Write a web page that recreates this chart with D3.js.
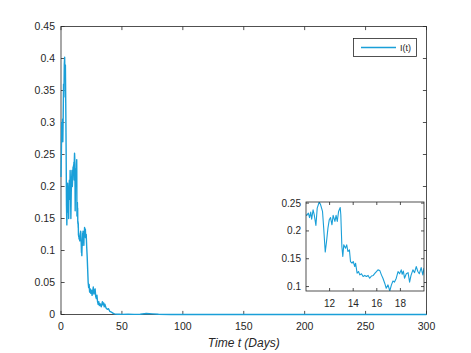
<!DOCTYPE html>
<html>
<head>
<meta charset="utf-8">
<script src="https://cdn.jsdelivr.net/npm/d3@7"></script>
<style>
  body { margin: 0; background: #fff; }
  text { font-family: "Liberation Sans", Arial, sans-serif; fill: #262626; }
</style>
</head>
<body>
<svg id="main-svg"></svg>
<script>
// time (days) and infected fraction I(t)
let times = [
  0, 0.3, 0.6, 0.9, 1.2, 1.5, 1.8, 2.1, 2.4, 2.7, 3.0, 3.3, 3.6, 3.9, 4.2, 4.5, 4.8,
  5.1, 5.4, 5.7, 6.0, 6.3, 6.6, 6.9, 7.2, 7.5, 7.8, 8.1, 8.4, 8.7, 9.0, 9.3, 9.6, 9.9,
  10.06, 10.2, 10.3, 10.4, 10.48, 10.6, 10.7, 10.84, 10.95, 11.12, 11.24, 11.4, 11.5,
  11.63, 11.74, 11.86, 11.97, 12.08, 12.2, 12.3, 12.45, 12.55, 12.65, 12.76, 12.9,
  12.95, 13.04, 13.12, 13.2, 13.35, 13.45, 13.55, 13.68, 13.77, 13.9, 14.0, 14.13,
  14.2, 14.33, 14.45, 14.56, 14.7, 14.84, 14.98, 15.12, 15.26, 15.4, 15.55, 15.7,
  15.85, 15.97, 16.1, 16.25, 16.39, 16.52, 16.67, 16.8, 16.95, 17.1, 17.24, 17.37,
  17.5, 17.65, 17.8, 17.93, 18.07, 18.15, 18.25, 18.35, 18.5, 18.65, 18.78, 18.9,
  19.06, 19.2, 19.34, 19.48, 19.6, 19.76, 19.9, 20.0,
  20.3, 20.7, 21.1, 21.5, 21.9, 22.3, 22.7, 23.1, 23.5, 24, 24.5, 25, 25.5, 26, 26.5,
  27, 27.5, 28, 28.5, 29, 29.5, 30, 30.5, 31, 31.5, 32, 33, 34, 34.5, 35, 35.5, 36,
  37, 38, 39, 40, 41, 42, 43, 44, 46, 48, 50, 55, 60, 65, 70, 75, 80, 90, 100, 150,
  200, 250, 300
];
let infected = [
  0.215, 0.25, 0.30, 0.285, 0.305, 0.27, 0.31, 0.36, 0.34, 0.39, 0.402, 0.37, 0.39,
  0.33, 0.26, 0.17, 0.14, 0.18, 0.205, 0.16, 0.19, 0.15, 0.2, 0.21, 0.18, 0.225, 0.2,
  0.15, 0.19, 0.21, 0.225, 0.2, 0.215, 0.23,
  0.228, 0.232, 0.224, 0.234, 0.221, 0.238, 0.229, 0.21, 0.241, 0.252, 0.247, 0.235,
  0.205, 0.162, 0.181, 0.205, 0.22, 0.224, 0.211, 0.228, 0.217, 0.228, 0.217, 0.235,
  0.242, 0.229, 0.172, 0.154, 0.175, 0.169, 0.175, 0.163, 0.166, 0.145, 0.142, 0.145,
  0.136, 0.142, 0.124, 0.127, 0.121, 0.123, 0.118, 0.12, 0.118, 0.12, 0.115, 0.119,
  0.12, 0.124, 0.127, 0.13, 0.129, 0.121, 0.115, 0.106, 0.097, 0.103, 0.092, 0.103,
  0.11, 0.108, 0.115, 0.127, 0.123, 0.13, 0.122, 0.128, 0.115, 0.123, 0.125, 0.108,
  0.12, 0.13, 0.125, 0.136, 0.127, 0.123, 0.134, 0.121, 0.133,
  0.12, 0.125, 0.105, 0.09, 0.07, 0.05, 0.042, 0.047, 0.035, 0.04, 0.033, 0.038, 0.03,
  0.036, 0.043, 0.032, 0.037, 0.04, 0.028, 0.025, 0.03, 0.02, 0.016, 0.02, 0.014,
  0.017, 0.012, 0.02, 0.015, 0.018, 0.012, 0.016, 0.01, 0.008, 0.009, 0.005, 0.004,
  0.003, 0.0015, 0.001, 0.0003, 0.0005, 0.0002, 0.0006, 0.0002, 0.0005, 0.0015, 0.001,
  0.0003, 0.0001, 0, 0, 0, 0, 0
];
let xTicks = [0, 50, 100, 150, 200, 250, 300];
let yTicks = [0, 0.05, 0.1, 0.15, 0.2, 0.25, 0.3, 0.35, 0.4, 0.45];
let insetXTicks = [12, 14, 16, 18];
let insetYTicks = [0.1, 0.15, 0.2, 0.25];
let insetDomainX = [10, 20];
let insetDomainY = [0.092, 0.252];
let xLabel = 'Time t (Days)';
let legendLabel = 'I(t)';

let width = 471;
let height = 353;
let lineColor = '#1a9fd8';
let axisColor = '#262626';
let data = times.map((t, i) => [t, infected[i]]);

let svg = d3.select('#main-svg')
  .attr('width', width)
  .attr('height', height);

// main axes box
let plotLeft = 61, plotRight = 426.5, plotTop = 26.5, plotBottom = 314.5;
let x = d3.scaleLinear().domain([0, 300]).range([plotLeft, plotRight]);
let y = d3.scaleLinear().domain([0, 0.45]).range([plotBottom, plotTop]);
let fmt = d => String(+d.toFixed(2));

function drawBox(g, xs, ys, xt, yt, tickLen) {
  let [x0, x1] = xs.range();
  let [y0, y1] = ys.range();
  // ticks pointing inwards on all four sides
  xt.forEach(v => {
    g.append('line').attr('x1', xs(v)).attr('x2', xs(v)).attr('y1', y0).attr('y2', y0 - tickLen);
    g.append('line').attr('x1', xs(v)).attr('x2', xs(v)).attr('y1', y1).attr('y2', y1 + tickLen);
  });
  yt.forEach(v => {
    g.append('line').attr('y1', ys(v)).attr('y2', ys(v)).attr('x1', x0).attr('x2', x0 + tickLen);
    g.append('line').attr('y1', ys(v)).attr('y2', ys(v)).attr('x1', x1).attr('x2', x1 - tickLen);
  });
  g.append('rect')
    .attr('x', x0).attr('y', y1)
    .attr('width', x1 - x0).attr('height', y0 - y1)
    .attr('fill', 'none');
  g.selectAll('line, rect').attr('stroke', axisColor).attr('stroke-width', 0.8);
}

drawBox(svg.append('g'), x, y, xTicks, yTicks, 3.6);

// the series is drawn over the axes, as in the original
let line = d3.line().x(d => x(d[0])).y(d => y(d[1]));
svg.append('path').datum(data)
  .attr('d', line)
  .attr('fill', 'none')
  .attr('stroke', lineColor)
  .attr('stroke-width', 1.4)
  .attr('stroke-linejoin', 'round');

svg.append('g').selectAll('text').data(xTicks).join('text')
  .attr('x', d => x(d)).attr('y', 330)
  .attr('text-anchor', 'middle')
  .style('font-size', '10.5px')
  .text(d => d);
svg.append('g').selectAll('text').data(yTicks).join('text')
  .attr('x', plotLeft - 6).attr('y', d => y(d) + 3.7)
  .attr('text-anchor', 'end')
  .style('font-size', '10.5px')
  .text(fmt);

svg.append('text')
  .attr('x', (plotLeft + plotRight) / 2).attr('y', 347)
  .attr('text-anchor', 'middle')
  .style('font-size', '12px')
  .style('font-style', 'italic')
  .text(xLabel);

// legend
let lg = svg.append('g');
lg.append('rect').attr('x', 353.5).attr('y', 38.5).attr('width', 63).attr('height', 18)
  .attr('fill', '#fff').attr('stroke', axisColor).attr('stroke-width', 0.8);
lg.append('line').attr('x1', 361).attr('x2', 396).attr('y1', 47.5).attr('y2', 47.5)
  .attr('stroke', lineColor).attr('stroke-width', 1.4);
lg.append('text').attr('x', 400).attr('y', 51).style('font-size', '9px').text(legendLabel);

// inset
let ix = d3.scaleLinear().domain(insetDomainX).range([306, 424]);
let iy = d3.scaleLinear().domain(insetDomainY).range([291, 202]);
let inset = svg.append('g');
inset.append('rect').attr('x', 306).attr('y', 202).attr('width', 118).attr('height', 89)
  .attr('fill', '#fff');
svg.append('clipPath').attr('id', 'inset-clip')
  .append('rect').attr('x', 306).attr('y', 202).attr('width', 118).attr('height', 89);
let insetLine = d3.line().x(d => ix(d[0])).y(d => iy(d[1]));
inset.append('path')
  .datum(data.filter(d => d[0] >= 9.5 && d[0] <= 20.5))
  .attr('d', insetLine)
  .attr('clip-path', 'url(#inset-clip)')
  .attr('fill', 'none')
  .attr('stroke', lineColor)
  .attr('stroke-width', 1.1)
  .attr('stroke-linejoin', 'round');
drawBox(inset.append('g'), ix, iy, insetXTicks, insetYTicks, 3);
inset.append('g').selectAll('text').data(insetXTicks).join('text')
  .attr('x', d => ix(d)).attr('y', 307)
  .attr('text-anchor', 'middle')
  .style('font-size', '10px')
  .text(d => d);
inset.append('g').selectAll('text').data(insetYTicks).join('text')
  .attr('x', 301).attr('y', d => iy(d) + 3.5)
  .attr('text-anchor', 'end')
  .style('font-size', '10px')
  .text(fmt);
</script>
</body>
</html>
